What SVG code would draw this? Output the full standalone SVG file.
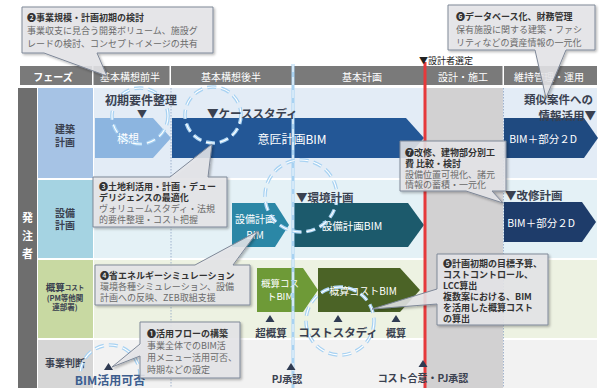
<svg xmlns="http://www.w3.org/2000/svg" width="599" height="388" viewBox="0 0 599 388">
<defs>
<style>
text{font-family:'Noto Sans CJK JP','Noto Sans',sans-serif;dominant-baseline:central}
.hd{fill:#fff;font-size:10px;text-anchor:middle}
.lb{fill:#3a4150;font-size:10px;font-weight:bold;text-anchor:middle}
.mk{fill:#3a4150;font-size:11.5px;font-weight:bold}
.aw{fill:#fff;font-size:11px;text-anchor:middle}
.ct{fill:#333;font-size:9px;font-weight:bold}
.cb{fill:#6a6a6a;font-size:9px}
.co{fill:#e6e7ea;fill-opacity:.86;stroke:#7f8898;stroke-width:1;filter:url(#sh)}
.ring{fill:none;stroke:#a8d2f2;stroke-width:3.6;stroke-dasharray:9 5}
.ring2{fill:none;stroke:#fff;stroke-width:1.1;stroke-dasharray:9 5}
.dot{stroke:#8da3c4;stroke-width:.8;stroke-dasharray:1.5 1.5}
.tri{fill:#2f3b52}
</style>
<filter id="sh" x="-10%" y="-10%" width="130%" height="140%"><feDropShadow dx="1.5" dy="1.5" stdDeviation="1.2" flood-color="#000" flood-opacity="0.3"/></filter>
</defs>
<rect width="599" height="388" fill="#fff"/>

<g id="header">
<rect x="20" y="66" width="72" height="19" fill="#7a7a7a"/>
<rect x="93.5" y="66" width="76" height="19" fill="#7a7a7a"/>
<rect x="171" y="66" width="121.5" height="19" fill="#7a7a7a"/>
<rect x="294" y="66" width="130" height="19" fill="#7a7a7a"/>
<rect x="425.5" y="66" width="77" height="19" fill="#7a7a7a"/>
<rect x="504" y="66" width="93" height="19" fill="#7a7a7a"/>
<text class="hd" x="53" y="76" font-weight="bold">フェーズ</text>
<text class="hd" x="130" y="76">基本構想前半</text>
<text class="hd" x="231" y="76">基本構想後半</text>
<text class="hd" x="362" y="76">基本計画</text>
<text class="hd" x="463" y="76">設計・施工</text>
<text class="hd" x="549" y="76">維持管理・運用</text>
</g>

<g id="rows">
<rect x="18" y="88" width="19" height="300" fill="#6e6e6e"/>
<text x="27.5" y="217" fill="#fff" font-size="11" font-weight="bold" text-anchor="middle">発</text>
<text x="27.5" y="235" fill="#fff" font-size="11" font-weight="bold" text-anchor="middle">注</text>
<text x="27.5" y="253" fill="#fff" font-size="11" font-weight="bold" text-anchor="middle">者</text>
<rect x="38" y="88" width="55" height="90" fill="#a6c3e5"/>
<rect x="94" y="88" width="503" height="90" fill="#e3ecf6"/>
<rect x="38" y="180" width="55" height="78" fill="#a5d3e2"/>
<rect x="94" y="180" width="503" height="78" fill="#e4f1f6"/>
<rect x="38" y="260" width="55" height="78" fill="#c8d9a2"/>
<rect x="94" y="260" width="503" height="78" fill="#edf2e2"/>
<rect x="38" y="340" width="55" height="48" fill="#d6d6d6"/>
<rect x="94" y="340" width="503" height="48" fill="#f2f2f2"/>
<rect x="426" y="88" width="77" height="300" fill="#d2d1d2"/>
<text class="lb" x="65" y="128">建築</text>
<text class="lb" x="65" y="141">計画</text>
<text class="lb" x="65" y="212">設備</text>
<text class="lb" x="65" y="224">計画</text>
<text class="lb" x="65" y="287" style="font-size:9.5px">概算<tspan style="font-size:6.5px">コスト</tspan></text>
<text class="lb" x="65" y="297" style="font-size:7.5px">(PM等他関</text>
<text class="lb" x="65" y="306" style="font-size:7.5px">連部署)</text>
<text class="lb" x="65" y="362">事業判断</text>
<line class="dot" x1="171" y1="88" x2="171" y2="388"/>
<line class="dot" x1="503.5" y1="88" x2="503.5" y2="388"/>
</g>

<g id="arrows">
<path d="M95,118 H153 L171,138 L153,158 H95 Z" fill="#8cb5e0"/>
<text class="aw" x="128" y="138">構想</text>
<path d="M172,118 H406 L424,138 L406,158 H172 Z" fill="#235796"/>
<text class="aw" x="292" y="138" style="font-size:12px">意匠計画BIM</text>
<path d="M504,118 H584 L598,138 L584,158 H504 Z" fill="#1f4a80"/>
<text class="aw" x="543" y="138" style="font-size:10.5px">BIM＋部分２D</text>
<path d="M232,203 H275 L289,225 L275,247 H232 Z" fill="#2b87a6"/>
<text class="aw" x="255" y="218" style="font-size:10px">設備計画</text>
<text class="aw" x="255" y="234" style="font-size:10px">BIM</text>
<path d="M293,203 H408 L424,225 L408,247 H293 Z" fill="#1c5a6c"/>
<text class="aw" x="352" y="225" style="font-size:10.5px">設備計画BIM</text>
<path d="M504,202 H582 L596,222 L582,242 H504 Z" fill="#1e3c6a"/>
<text class="aw" x="541" y="222" style="font-size:10.5px">BIM＋部分２D</text>
<path d="M257,268 H303 L318,290 L303,312 H257 Z" fill="#6e9a37"/>
<text class="aw" x="280" y="283" style="font-size:9.5px">概算コス</text>
<text class="aw" x="280" y="296" style="font-size:9.5px">トBIM</text>
<path d="M318,268 H400 L420,290 L400,312 H318 Z" fill="#4b6326"/>
<text class="aw" x="363" y="290" style="font-size:10px">概算コストBIM</text>
</g>

<g id="connectors">
<line x1="425" y1="62" x2="425" y2="388" stroke="#e6393b" stroke-width="3"/>
<text x="419" y="60" font-size="9" fill="#222">▼設計者選定</text>
<line x1="293" y1="64" x2="293" y2="388" stroke="#a8d2f2" stroke-width="3"/>
<line x1="293" y1="64" x2="293" y2="388" stroke="#fff" stroke-width="1" stroke-dasharray="8 5"/>
<circle class="ring" cx="140" cy="116" r="28"/><circle class="ring2" cx="140" cy="116" r="28"/>
<circle class="ring" cx="213" cy="115" r="28"/><circle class="ring2" cx="213" cy="115" r="28"/>
<circle class="ring" cx="301" cy="196" r="36"/><circle class="ring2" cx="301" cy="196" r="36"/>
<circle class="ring" cx="340" cy="321" r="34"/><circle class="ring2" cx="340" cy="321" r="34"/>
<circle class="ring" cx="110" cy="375" r="30"/><circle class="ring2" cx="110" cy="375" r="30"/>
</g>

<g id="marks">
<text class="mk" x="141" y="99" text-anchor="middle" style="font-size:12px">初期要件整理</text>
<text class="mk" x="142" y="113" text-anchor="middle" style="font-size:10px">▼</text>
<text class="mk" x="207" y="113">▼ケーススタディ</text>
<text class="mk" x="593" y="99" text-anchor="end">類似案件への</text>
<text class="mk" x="596" y="115" text-anchor="end">情報活用▼</text>
<text class="mk" x="296" y="197">▼環境計画</text>
<text class="mk" x="505" y="195">▼改修計画</text>
<polygon class="tri" points="265.5,322 274.5,322 270,315"/>
<polygon class="tri" points="333.5,322 342.5,322 338,315"/>
<polygon class="tri" points="391.5,322 400.5,322 396,315"/>
<polygon class="tri" points="104,370 113,370 108.5,363"/>
<polygon class="tri" points="286.5,370 295.5,370 291,363"/>
<polygon class="tri" points="418.5,367 427.5,367 423,360"/>
<text class="mk" x="271" y="332" text-anchor="middle" style="font-size:10.5px">超概算</text>
<text class="mk" x="338" y="332" text-anchor="middle">コストスタディ</text>
<text class="mk" x="396" y="332" text-anchor="middle" style="font-size:10px">概算</text>
<text class="mk" x="110" y="379.5" text-anchor="middle" style="font-size:12px;fill:#3d5d8d">BIM活用可否</text>
<text class="mk" x="287" y="378" text-anchor="middle" style="font-size:10px">PJ承認</text>
<text class="mk" x="423" y="377" text-anchor="middle" style="font-size:10px">コスト合意・PJ承認</text>
</g>

<g id="callout2">
<path class="co" d="M22,7 H213 V53 H97 L107,76 L44,53 H22 Z"/>
<text class="ct" x="27" y="17">❷事業規模・計画初期の検討</text>
<text class="cb" x="27" y="30">事業収支に見合う開発ボリューム、施設グ</text>
<text class="cb" x="27" y="43">レードの検討、コンセプトイメージの共有</text>
</g>
<g id="callout6">
<path class="co" d="M448,5 H595 V50 H566 L546,98 L535,50 H448 Z"/>
<text class="ct" x="456" y="16">❻データベース化、財務管理</text>
<text class="cb" x="456" y="29">保有施設に関する建築・ファシ</text>
<text class="cb" x="456" y="42">リティなどの資産情報の一元化</text>
</g>
<g id="callout3">
<path class="co" d="M93,177 H170 L212,144 L208,177 H227 V227 H93 Z"/>
<text class="ct" x="99" y="186">❸土地利活用・計画・デュー</text>
<text class="ct" x="99" y="197">デリジェンスの最適化</text>
<text class="cb" x="99" y="208">ヴォリュームスタディ・法規</text>
<text class="cb" x="99" y="219">的要件整理・コスト把握</text>
</g>
<g id="callout4">
<path class="co" d="M95,265 H195 L258,231 L233,265 H250 V305 H95 Z"/>
<text class="ct" x="100" y="275">❹省エネルギーシミュレーション</text>
<text class="cb" x="100" y="286">環境各種シミュレーション、設備</text>
<text class="cb" x="100" y="297">計画への反映、ZEB取組支援</text>
</g>
<g id="callout1">
<path class="co" d="M140,322 H240 V378 H140 V356 L112,367 L140,344 Z"/>
<text class="ct" x="147" y="333">❶活用フローの構築</text>
<text class="cb" x="147" y="345">事業全体でのBIM活</text>
<text class="cb" x="147" y="357">用メニュー活用可否、</text>
<text class="cb" x="147" y="369">時期などの設定</text>
</g>
<g id="callout7">
<path class="co" d="M400,141 H506 V191 H492 L503,203 L466,191 H400 Z"/>
<text class="ct" x="405" y="152">❼改修、建物部分別工</text>
<text class="ct" x="405" y="163">費 比較・検討</text>
<text class="cb" x="405" y="174">設備位置可視化、諸元</text>
<text class="cb" x="405" y="184">情報の蓄積・一元化</text>
</g>
<g id="callout5">
<path class="co" d="M437,254 H548 V325 H437 V304 L372,309 L437,289 Z"/>
<text class="ct" x="443" y="263">❺計画初期の目標予算、</text>
<text class="ct" x="443" y="274">コストコントロール、</text>
<text class="ct" x="443" y="285">LCC算出</text>
<text class="ct" x="443" y="296">複数案における、BIM</text>
<text class="ct" x="443" y="307">を活用した概算コスト</text>
<text class="ct" x="443" y="318">の算出</text>
</g>
</svg>
